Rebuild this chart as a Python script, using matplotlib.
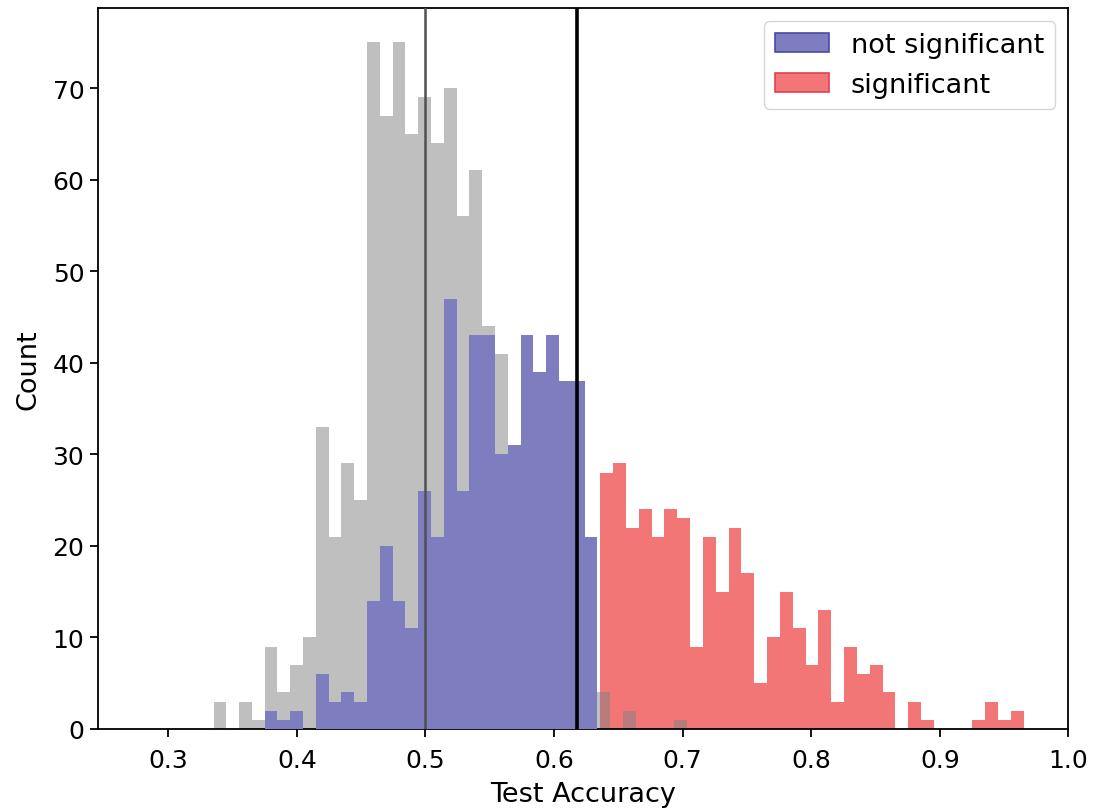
import numpy as np
import matplotlib
matplotlib.use("Agg")
import matplotlib.pyplot as plt
from matplotlib.patches import Patch

# Null (permutation) accuracy histogram: bin start and counts
null_start = 0.3352
null_width = 0.00995
null_counts = [3, 0, 3, 1, 9, 4, 7, 10, 33, 21, 29, 25, 75, 67, 75, 65, 69, 64, 70,
               56, 61, 44, 41, 28, 22, 16, 12, 8, 6, 5, 4, 0, 2, 0, 0, 0, 1]

# Models whose accuracy is not significant (same binning as the null)
nonsig_counts = [0, 0, 0, 0, 2, 1, 2, 0, 6, 3, 4, 3, 14, 20, 14, 11, 26, 21, 47,
                 26, 43, 43, 30, 31, 43, 39, 43, 38, 38, 21]

# Models whose accuracy is significant
sig_start = 0.6359
sig_width = 0.00998
sig_counts = [28, 29, 22, 24, 21, 24, 23, 9, 21, 15, 22, 17, 5, 10, 15, 11, 7, 13,
              3, 9, 6, 7, 4, 0, 3, 1, 0, 0, 0, 1, 3, 1, 2]

chance_level = 0.5
threshold = 0.618

legend_labels = ["not significant", "significant"]

gray_c = (0.5, 0.5, 0.5, 0.5)
blue_c = "#7d7dbf"
red_c = "#f27676"

fig = plt.figure(figsize=(10.98, 8.12), dpi=100)
ax = fig.add_axes([0.0888, 0.101, 0.8843, 0.888])

def left_edges(start, width, counts):
    return start + width * np.arange(len(counts))

ax.bar(left_edges(sig_start, sig_width, sig_counts), sig_counts, width=sig_width,
       align="edge", color=red_c, linewidth=0, zorder=1)
ax.bar(left_edges(null_start, null_width, null_counts), null_counts, width=null_width,
       align="edge", color=gray_c, linewidth=0, zorder=2)
ax.bar(left_edges(null_start, null_width, nonsig_counts), nonsig_counts, width=null_width,
       align="edge", color=blue_c, linewidth=0, zorder=3)

ax.axvline(chance_level, color="#505050", linewidth=1.8, zorder=4)
ax.axvline(threshold, color="black", linewidth=2.6, zorder=4)

ax.set_xlim(0.245, 1.0)
ax.set_ylim(0, 78.75)
ax.set_xticks([0.3, 0.4, 0.5, 0.6, 0.7, 0.8, 0.9, 1.0])
ax.set_yticks([0, 10, 20, 30, 40, 50, 60, 70])

fs = 18
ax.tick_params(labelsize=fs, length=6, width=1.3)
ax.tick_params(axis="x", pad=8)
for s in ax.spines.values():
    s.set_linewidth(1.3)
ax.set_xlabel("Test Accuracy", fontsize=19.5, labelpad=6)
ax.set_ylabel("Count", fontsize=19.5, labelpad=8)

handles = [Patch(facecolor=blue_c, edgecolor="#4a4aa8", linewidth=1.2),
           Patch(facecolor=red_c, edgecolor="#e04050", linewidth=1.2)]
ax.legend(handles, legend_labels, loc="upper right", fontsize=19.5,
          handlelength=2.0, borderaxespad=0.5)

fig.savefig("out.png", dpi=100)
